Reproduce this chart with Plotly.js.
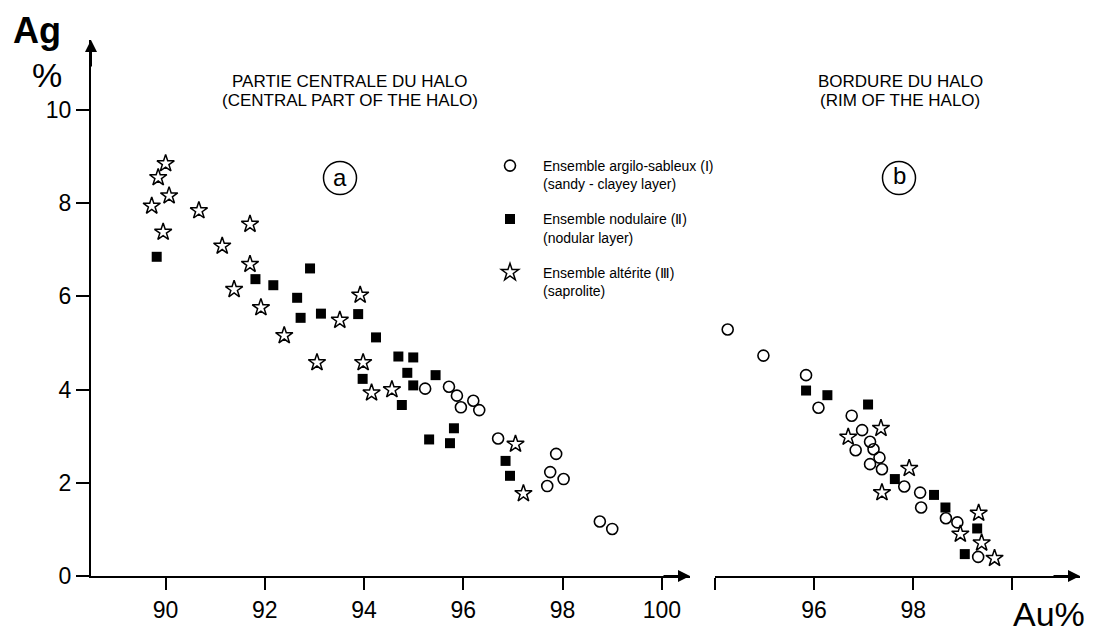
<!DOCTYPE html>
<html>
<head>
<meta charset="utf-8">
<script src="https://cdn.plot.ly/plotly-3.0.1.min.js"></script>
<style>html,body{margin:0;padding:0;background:#fff;}#chart{width:1096px;height:633px;}</style>
</head>
<body>
<div id="chart"></div>
<script>
// ---- Data ----
// Panel (a): central part of the halo
const circA_x = [95.23, 95.71, 95.87, 96.20, 95.95, 96.32, 96.70, 97.87, 97.75, 98.02, 97.69, 98.75, 99.00];
const circA_y = [4.02, 4.06, 3.87, 3.76, 3.62, 3.56, 2.95, 2.62, 2.23, 2.08, 1.93, 1.17, 1.01];
const sqA_x = [89.82, 92.91, 91.81, 92.17, 92.65, 92.72, 93.13, 93.88, 94.24, 94.69, 94.99, 94.87, 95.44, 93.97, 94.99, 94.76, 95.81, 95.31, 95.73, 96.85, 96.94];
const sqA_y = [6.85, 6.60, 6.37, 6.24, 5.97, 5.54, 5.63, 5.62, 5.12, 4.71, 4.69, 4.36, 4.31, 4.23, 4.09, 3.67, 3.17, 2.93, 2.85, 2.47, 2.15];
const starA_x = [90.00, 89.85, 90.07, 89.72, 89.95, 90.67, 91.70, 91.14, 91.70, 91.38, 91.92, 92.39, 93.05, 93.51, 93.92, 93.98, 94.15, 94.56, 97.05, 97.21];
const starA_y = [8.85, 8.55, 8.16, 7.94, 7.38, 7.84, 7.55, 7.08, 6.69, 6.15, 5.76, 5.16, 4.58, 5.49, 6.03, 4.58, 3.93, 4.00, 2.83, 1.77];
// Panel (b): rim of the halo
const circB_x = [94.26, 94.98, 95.84, 96.09, 96.76, 96.97, 97.13, 96.84, 97.20, 97.32, 97.13, 97.37, 97.82, 98.14, 98.16, 98.66, 98.89, 99.31];
const circB_y = [5.29, 4.73, 4.31, 3.61, 3.44, 3.13, 2.88, 2.70, 2.72, 2.54, 2.40, 2.29, 1.92, 1.79, 1.47, 1.24, 1.15, 0.41];
const sqB_x = [95.84, 96.27, 97.09, 97.63, 98.42, 98.65, 99.29, 99.04];
const sqB_y = [3.98, 3.88, 3.68, 2.08, 1.74, 1.47, 1.02, 0.47];
const starB_x = [97.35, 96.69, 97.92, 97.37, 99.32, 98.95, 99.38, 99.64];
const starB_y = [3.17, 2.98, 2.31, 1.79, 1.35, 0.90, 0.71, 0.38];

// Tick labels
const yTicks = [0, 2, 4, 6, 8, 10];
const xaTicks = [90, 92, 94, 96, 98, 100];
const xbTicks = [94, 96, 98, 100];
const xbTickText = ['', '96', '98', ''];

// Legend names
const nameI = 'Ensemble argilo-sableux (Ⅰ)<br>(sandy - clayey layer)';
const nameII = 'Ensemble nodulaire (Ⅱ)<br>(nodular layer)';
const nameIII = 'Ensemble altérite (Ⅲ)<br>(saprolite)';

// ---- Styles ----
const FONT = 'Liberation Sans, Arial, Helvetica, sans-serif';
const circM = {symbol: 'circle-open', size: 11, color: '#000', line: {width: 1.6, color: '#000'}};
const sqM = {symbol: 'square', size: 10, color: '#000', line: {width: 0}};
const starM = {symbol: 'star-open', size: 13, color: '#000', line: {width: 1.5, color: '#000'}};

const traces = [
  {x: circA_x, y: circA_y, xaxis: 'x', yaxis: 'y', mode: 'markers', marker: circM, name: nameI, legendgroup: 'g1'},
  {x: sqA_x, y: sqA_y, xaxis: 'x', yaxis: 'y', mode: 'markers', marker: sqM, name: nameII, legendgroup: 'g2'},
  {x: starA_x, y: starA_y, xaxis: 'x', yaxis: 'y', mode: 'markers', marker: starM, name: nameIII, legendgroup: 'g3'},
  {x: circB_x, y: circB_y, xaxis: 'x2', yaxis: 'y', mode: 'markers', marker: circM, name: nameI, legendgroup: 'g1', showlegend: false},
  {x: sqB_x, y: sqB_y, xaxis: 'x2', yaxis: 'y', mode: 'markers', marker: sqM, name: nameII, legendgroup: 'g2', showlegend: false},
  {x: starB_x, y: starB_y, xaxis: 'x2', yaxis: 'y', mode: 'markers', marker: starM, name: nameIII, legendgroup: 'g3', showlegend: false}
];

const W = 1096, H = 633;
const px = v => v / W;
const py = v => (H - v) / H;

const axisCommon = {
  showline: true, linecolor: '#000', linewidth: 2, showgrid: false, zeroline: false,
  ticks: 'outside', tickcolor: '#000', tickwidth: 2, ticklen: 12,
  tickfont: {family: FONT, size: 23, color: '#000'}, fixedrange: true
};

function label(x, y, text, size, extra) {
  return Object.assign({
    xref: 'paper', yref: 'paper', x: px(x), y: py(y), xanchor: 'center', yanchor: 'middle',
    text: text, showarrow: false, font: {family: FONT, size: size, color: '#000'}
  }, extra || {});
}

const layout = {
  width: W, height: H,
  margin: {l: 0, r: 0, t: 0, b: 0},
  paper_bgcolor: '#fff', plot_bgcolor: 'rgba(0,0,0,0)',
  font: {family: FONT, color: '#000'},
  showlegend: true,
  legend: {
    x: px(477), y: py(150), xanchor: 'left', yanchor: 'top',
    font: {family: FONT, size: 14, color: '#000'},
    bgcolor: 'rgba(0,0,0,0)', itemwidth: 56, valign: 'top', tracegroupgap: 14,
    itemclick: false, itemdoubleclick: false
  },
  xaxis: Object.assign({}, axisCommon, {
    domain: [px(91), px(690)], range: [88.496, 100.567], anchor: 'y',
    tickvals: xaTicks, ticktext: xaTicks.map(String)
  }),
  xaxis2: Object.assign({}, axisCommon, {
    domain: [px(714.8), px(1080)], range: [94, 101.363], anchor: 'y',
    tickvals: xbTicks, ticktext: xbTickText
  }),
  yaxis: Object.assign({}, axisCommon, {
    domain: [(H - 576) / H, (H - 40) / H], range: [0, 11.502], anchor: 'x',
    tickvals: yTicks, ticktext: yTicks.map(String), ticklen: 13
  }),
  shapes: [
    {type: 'circle', xref: 'paper', yref: 'paper', x0: px(323.5), x1: px(356.5), y0: py(194.5), y1: py(161.5), line: {color: '#000', width: 1.5}},
    {type: 'circle', xref: 'paper', yref: 'paper', x0: px(882.5), x1: px(915.5), y0: py(194.5), y1: py(161.5), line: {color: '#000', width: 1.5}}
  ],
  annotations: [
    // axis arrows
    {xref: 'x', yref: 'y', x: 88.496, y: 11.502, ax: 0, ay: 28, showarrow: true, arrowhead: 2, arrowsize: 1.2, arrowwidth: 2, arrowcolor: '#000', text: ''},
    {xref: 'x', yref: 'y', x: 100.567, y: 0, ax: -28, ay: 0, showarrow: true, arrowhead: 2, arrowsize: 1.2, arrowwidth: 2, arrowcolor: '#000', text: ''},
    {xref: 'x2', yref: 'y', x: 101.363, y: 0, ax: -28, ay: 0, showarrow: true, arrowhead: 2, arrowsize: 1.2, arrowwidth: 2, arrowcolor: '#000', text: ''},
    // axis titles
    label(37, 31, 'Ag', 36, {font: {family: FONT, size: 36, color: '#000', weight: 'bold'}}),
    label(47, 75, '%', 34),
    label(1049, 614, 'Au%', 34),
    // panel titles
    label(350, 81, 'PARTIE CENTRALE DU HALO', 17),
    label(350, 100, '(CENTRAL PART OF THE HALO)', 17),
    label(900, 81, 'BORDURE DU HALO', 17),
    label(900, 100, '(RIM OF THE HALO)', 17),
    // panel letters
    label(340, 177, 'a', 24),
    label(899, 176, 'b', 24)
  ]
};

Plotly.newPlot('chart', traces, layout, {staticPlot: true, displayModeBar: false});
</script>
</body>
</html>
